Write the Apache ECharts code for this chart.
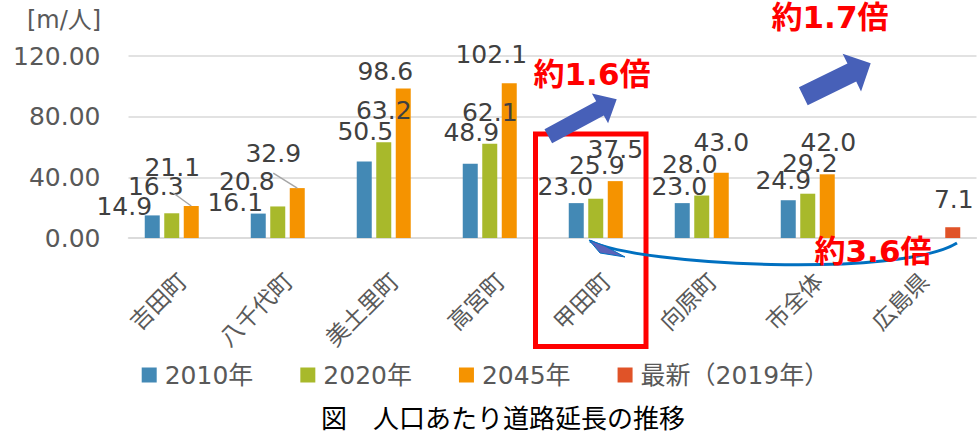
<!DOCTYPE html>
<html>
<head>
<meta charset="utf-8">
<script src="https://cdn.jsdelivr.net/npm/echarts@6/dist/echarts.min.js"></script>
<style>
html,body{margin:0;padding:0;background:#fff;}
#chart{width:977px;height:434px;}
</style>
</head>
<body>
<div id="chart"></div>
<script>
// ---- data ----
const categories = ['吉田町', '八千代町', '美土里町', '高宮町', '甲田町', '向原町', '市全体', '広島県'];
const seriesNames = ['2010年', '2020年', '2045年', '最新（2019年）'];
const v2010 = [14.9, 16.1, 50.5, 48.9, 23.0, 23.0, 24.9, null];
const v2020 = [16.3, 20.8, 63.2, 62.1, 25.9, 28.0, 29.2, null];
const v2045 = [21.1, 32.9, 98.6, 102.1, 37.5, 43.0, 42.0, null];
const vLatest = [null, null, null, null, null, null, null, 7.1];
const yTicks = [0, 40, 80, 120];

// ---- styles (label offsets relative to bar top centre) ----
const colors = ['#4389b5', '#a8b92b', '#f59300', '#e05328'];
const off2010 = [[-28, -9], [-23, -11], [1, -30], [1, -31], [-11, -17], [-3, -17], [-5, -20], [0, 0]];
const off2020 = [[-16, -27], [-31, -25], [0, -32], [0, -31], [1, -33], [-12, -31], [2, -30], [0, 0]];
const off2045 = [[-19, -38], [-24, -35], [-18, -17], [-18, -29], [0, -32], [0, -30], [1, -32], [0, 0]];
const offLatest = [[0, 0], [0, 0], [0, 0], [0, 0], [0, 0], [0, 0], [0, 0], [1, -28]];
// leader lines for 2045 series: [dataIndex, start offset from bar top centre]
const leaders2045 = [[0, [-18, -13]], [1, [-24, -15]]];

const NUM_FONT = '"DejaVu Sans", "Noto Sans CJK JP", sans-serif';
const JP_FONT = '"Noto Sans CJK JP", "DejaVu Sans", sans-serif';
const LBL_LH = 25;

function buildData(values, offsets) {
  return values.map((v, i) => {
    if (v == null) return null;
    const o = offsets[i];
    return { value: v, label: { offset: [o[0], o[1] + LBL_LH / 2] } };
  });
}

function barSeries(name, values, offsets, color) {
  return {
    name: name,
    type: 'bar',
    barWidth: 15,
    barGap: '30%',
    itemStyle: { color: color },
    data: buildData(values, offsets),
    label: {
      show: true,
      position: 'top',
      distance: 0,
      lineHeight: LBL_LH,
      fontSize: 25,
      fontFamily: NUM_FONT,
      color: '#404040',
      formatter: p => (p.value == null ? '' : Number(p.value).toFixed(1))
    }
  };
}

function arrowPoints(tail, tip, shaftW, headW, headL) {
  const dx = tip[0] - tail[0], dy = tip[1] - tail[1];
  const len = Math.sqrt(dx * dx + dy * dy);
  const ux = dx / len, uy = dy / len;
  const nx = -uy, ny = ux;
  const bx = tip[0] - ux * headL, by = tip[1] - uy * headL;
  return [
    [tail[0] + nx * shaftW / 2, tail[1] + ny * shaftW / 2],
    [bx + nx * shaftW / 2, by + ny * shaftW / 2],
    [bx + nx * headW / 2, by + ny * headW / 2],
    [tip[0], tip[1]],
    [bx - nx * headW / 2, by - ny * headW / 2],
    [bx - nx * shaftW / 2, by - ny * shaftW / 2],
    [tail[0] - nx * shaftW / 2, tail[1] - ny * shaftW / 2]
  ];
}

const chart = echarts.init(document.getElementById('chart'), null, { renderer: 'svg' });

const redText = (id, text, x, y) => ({
  id: id, type: 'text', x: x, y: y, z: 120,
  style: { text: text, fill: '#ff0000', font: 'bold 31px ' + NUM_FONT, lineHeight: 31, textAlign: 'center', textVerticalAlign: 'middle' }
});

const option = {
  animation: false,
  backgroundColor: '#ffffff',
  color: colors,
  grid: { left: 128.5, right: 0.5, top: 56, bottom: 196, containLabel: false },
  legend: {
    data: seriesNames,
    left: 141.7,
    top: 362.5,
    padding: 0,
    itemWidth: 15,
    itemHeight: 15,
    itemGap: 47,
    icon: 'rect',
    textStyle: { fontSize: 25, fontFamily: NUM_FONT, color: '#595959', lineHeight: 25, padding: [0, 0, 0, 3] }
  },
  xAxis: {
    type: 'category',
    data: categories,
    axisLine: { show: true, lineStyle: { color: '#d9d9d9', width: 1.5 } },
    axisTick: { show: false },
    axisLabel: { rotate: 45, margin: 38, fontSize: 23, fontFamily: JP_FONT, color: '#595959', interval: 0 }
  },
  yAxis: {
    type: 'value',
    min: yTicks[0],
    max: yTicks[yTicks.length - 1],
    interval: yTicks[1] - yTicks[0],
    axisLine: { show: false },
    axisTick: { show: false },
    splitLine: { lineStyle: { color: '#d9d9d9', width: 1.5 } },
    axisLabel: { margin: 28, fontSize: 25, fontFamily: NUM_FONT, color: '#595959', formatter: v => v.toFixed(2) }
  },
  series: [
    barSeries(seriesNames[0], v2010, off2010, colors[0]),
    barSeries(seriesNames[1], v2020, off2020, colors[1]),
    barSeries(seriesNames[2], v2045, off2045, colors[2]),
    barSeries(seriesNames[3], vLatest, offLatest, colors[3])
  ],
  graphic: [
    { id: 'unit', type: 'text', x: 64, y: 20, style: { text: '[m/人]', fill: '#595959', font: '24px ' + NUM_FONT, textAlign: 'center', textVerticalAlign: 'middle' } },
    { id: 'title', type: 'text', x: 503, y: 416, style: { text: '図　人口あたり道路延長の推移', fill: '#000000', font: '26px ' + JP_FONT, textAlign: 'center', textVerticalAlign: 'middle' } },
    { id: 'box', type: 'rect', z: 110, shape: { x: 535.5, y: 134, width: 110.5, height: 212.5 }, style: { fill: 'none', stroke: '#ff0000', lineWidth: 5 } },
    { id: 'arrow1', type: 'polygon', z: 110, shape: { points: arrowPoints([548.3, 136.3], [616.7, 99.3], 16, 34, 19) }, style: { fill: '#4760b8' } },
    { id: 'arrow2', type: 'polygon', z: 110, shape: { points: arrowPoints([803.3, 96.2], [870.7, 63.3], 20, 42, 21) }, style: { fill: '#4760b8' } },
    { id: 'curve', type: 'bezierCurve', z: 110, shape: { x1: 590, y1: 241, cpx1: 640, cpy1: 266, cpx2: 900, cpy2: 278, x2: 957, y2: 243 }, style: { fill: 'none', stroke: '#0070c0', lineWidth: 3 } },
    { id: 'wedge', type: 'polygon', z: 111, shape: { points: [[589, 240], [600, 253], [625, 257], [605, 246]] }, style: { fill: '#5b62b8', stroke: '#0070c0', lineWidth: 1 } },
    redText('t16', '約1.6倍', 592, 74),
    redText('t17', '約1.7倍', 830, 17),
    redText('t36', '約3.6倍', 873, 251)
  ]
};
chart.setOption(option);

// leader lines from the (moved) labels to their bars, using the bar layout computed by ECharts
const seriesData = chart.getModel().getSeriesByIndex(2).getData();
const leaderEls = leaders2045.map(([idx, st], k) => {
  const lay = seriesData.getItemLayout(idx);
  const cx = lay.x + lay.width / 2;
  const top = Math.min(lay.y, lay.y + lay.height);
  return {
    id: 'lead' + k, type: 'line', z: 50,
    shape: { x1: cx + st[0], y1: top + st[1], x2: cx, y2: top },
    style: { stroke: '#a6a6a6', lineWidth: 1.5 }
  };
});
chart.setOption({ graphic: leaderEls });
</script>
</body>
</html>
